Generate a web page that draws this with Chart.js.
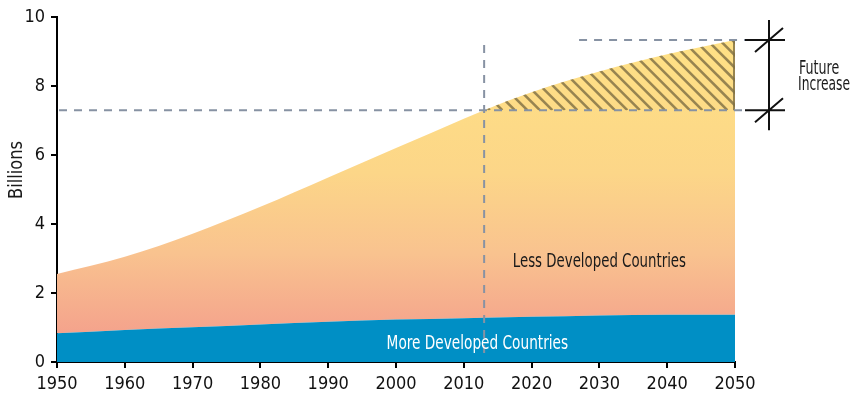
<!DOCTYPE html>
<html>
<head>
<meta charset="utf-8">
<script src="https://cdn.jsdelivr.net/npm/chart.js@4/dist/chart.umd.min.js"></script>
<style>
  body { margin: 0; background: #fff; }
</style>
</head>
<body>
<canvas id="chart" width="855" height="403"></canvas>
<script>
const years = [1950, 1960, 1970, 1980, 1990, 2000, 2010, 2013, 2020, 2030, 2040, 2050];
const moreDeveloped = [0.83, 0.93, 1.01, 1.09, 1.17, 1.23, 1.27, 1.28, 1.31, 1.35, 1.37, 1.37];
const lessDeveloped = [1.72, 2.12, 2.71, 3.41, 4.18, 4.97, 5.78, 6.02, 6.51, 7.07, 7.55, 7.96];
const yTicks = [0, 2, 4, 6, 8, 10];
const xTicks = [1950, 1960, 1970, 1980, 1990, 2000, 2010, 2020, 2030, 2040, 2050];
const todayYear = 2013;
const todayTotal = 7.3;

const font = "'DejaVu Sans Condensed', 'Liberation Sans Narrow', sans-serif";
const dashColor = '#8792a3';
const hatchColor = 'rgba(128, 112, 68, 0.82)';

const ctx = document.querySelector('#chart').getContext('2d');

function lessGradient(context) {
    const area = context.chart.chartArea;
    if (!area) return '#f9c48f';
    const y = context.chart.scales.y;
    const g = context.chart.ctx.createLinearGradient(0, y.getPixelForValue(9.3), 0, y.getPixelForValue(0.8));
    g.addColorStop(0, '#ffe185');
    g.addColorStop(0.45, '#fcd688');
    g.addColorStop(0.72, '#f9c38f');
    g.addColorStop(1, '#f4a28c');
    return g;
}

// texte un peu condense
function narrowText(c, txt, x, y, size, squeeze) {
    c.save();
    c.font = size + 'px ' + font;
    c.translate(x, y);
    c.scale(squeeze, 1);
    c.fillText(txt, 0, 0);
    c.restore();
}

// hachures, pointilles et textes
const extras = {
    id: 'extras',
    afterDatasetsDraw(chart) {
        const c = chart.ctx;
        const x = chart.scales.x;
        const y = chart.scales.y;
        const area = chart.chartArea;
        const lastTotal = moreDeveloped[moreDeveloped.length - 1] + lessDeveloped[lessDeveloped.length - 1];
        const x0 = x.getPixelForValue(todayYear);
        const x1 = x.getPixelForValue(2050);
        const yBase = y.getPixelForValue(todayTotal);
        const yTop = y.getPixelForValue(lastTotal);

        // zone hachuree au dessus de 7.3
        c.save();
        c.beginPath();
        c.rect(x0, area.top, x1 - x0, yBase - area.top);
        c.clip();
        c.beginPath();
        const line = chart.getDatasetMeta(1).dataset;
        line.path(c);
        c.lineTo(x1, area.bottom);
        c.lineTo(area.left, area.bottom);
        c.closePath();
        c.clip();
        c.strokeStyle = hatchColor;
        c.lineWidth = 2.5;
        for (let s = x0 - 200; s < x1 + 50; s += 12.5) {
            c.beginPath();
            c.moveTo(s, area.top);
            c.lineTo(s + (yBase - area.top), yBase);
            c.stroke();
        }
        c.restore();

        c.save();
        c.strokeStyle = hatchColor;
        c.lineWidth = 2;
        c.beginPath();
        c.moveTo(x1 - 1, yBase);
        c.lineTo(x1 - 1, yTop);
        c.stroke();

        // pointilles
        c.strokeStyle = dashColor;
        c.lineWidth = 2;
        c.setLineDash([8, 7]);
        c.beginPath();
        c.moveTo(area.left + 2, yBase);
        c.lineTo(x1 + 10, yBase);
        c.moveTo(x0, area.top + 28);
        c.lineTo(x0, area.bottom - 3);
        c.moveTo(x.getPixelForValue(2027), yTop);
        c.lineTo(x1 + 10, yTop);
        c.stroke();
        c.setLineDash([]);

        // cote "Future Increase"
        const mx = x1 + 34;
        c.strokeStyle = '#111';
        c.lineWidth = 2;
        c.beginPath();
        c.moveTo(mx, yTop - 20);
        c.lineTo(mx, yBase + 20);
        c.moveTo(x1 + 10, yTop);
        c.lineTo(x1 + 50, yTop);
        c.moveTo(x1 + 10, yBase);
        c.lineTo(x1 + 50, yBase);
        c.moveTo(mx - 14, yTop + 12);
        c.lineTo(mx + 14, yTop - 12);
        c.moveTo(mx - 14, yBase + 12);
        c.lineTo(mx + 14, yBase - 12);
        c.stroke();

        c.fillStyle = '#1a1a1a';
        c.textAlign = 'left';
        c.textBaseline = 'middle';
        narrowText(c, 'Future', mx + 30, yTop + 29, 19, 0.74);
        narrowText(c, 'Increase', mx + 29, yTop + 45, 19, 0.72);

        c.textAlign = 'center';
        narrowText(c, 'Less Developed Countries', x.getPixelForValue(2030), y.getPixelForValue(2.9), 19, 0.78);
        c.fillStyle = '#ffffff';
        narrowText(c, 'More Developed Countries', x.getPixelForValue(2012), y.getPixelForValue(0.52), 19, 0.8);

        c.fillStyle = '#1a1a1a';
        c.translate(17, 170);
        c.rotate(-Math.PI / 2);
        narrowText(c, 'Billions', 0, 0, 19, 0.95);
        c.restore();
    }
};

new Chart(ctx, {
    type: 'line',
    data: {
        datasets: [
            {
                label: 'More Developed Countries',
                data: years.map((yr, i) => ({ x: yr, y: moreDeveloped[i] })),
                backgroundColor: '#008fc5',
                borderWidth: 0,
                pointRadius: 0,
                fill: 'origin',
                cubicInterpolationMode: 'monotone'
            },
            {
                label: 'Less Developed Countries',
                data: years.map((yr, i) => ({ x: yr, y: lessDeveloped[i] })),
                backgroundColor: lessGradient,
                borderWidth: 0,
                pointRadius: 0,
                fill: '-1',
                cubicInterpolationMode: 'monotone'
            }
        ]
    },
    options: {
        responsive: false,
        animation: false,
        layout: { padding: { top: 17, right: 120, left: 0, bottom: 0 } },
        plugins: {
            legend: { display: false },
            tooltip: { enabled: false }
        },
        scales: {
            x: {
                type: 'linear',
                min: 1950,
                max: 2050,
                afterFit: (s) => { s.height = 41; },
                afterBuildTicks: (s) => { s.ticks = xTicks.map(v => ({ value: v })); },
                grid: { drawOnChartArea: false, drawTicks: true, tickLength: 6, color: '#000', lineWidth: 2 },
                border: { color: '#000', width: 2 },
                ticks: {
                    padding: 6,
                    color: '#111',
                    font: { family: font, size: 18 },
                    callback: (v) => String(v)
                }
            },
            y: {
                stacked: true,
                min: 0,
                max: 10,
                afterFit: (s) => { s.width = 57; },
                afterBuildTicks: (s) => { s.ticks = yTicks.map(v => ({ value: v })); },
                grid: { drawOnChartArea: false, drawTicks: true, tickLength: 6, color: '#000', lineWidth: 2 },
                border: { color: '#000', width: 2 },
                ticks: {
                    padding: 6,
                    color: '#111',
                    font: { family: font, size: 18 }
                }
            }
        }
    },
    plugins: [extras]
});
</script>
</body>
</html>
